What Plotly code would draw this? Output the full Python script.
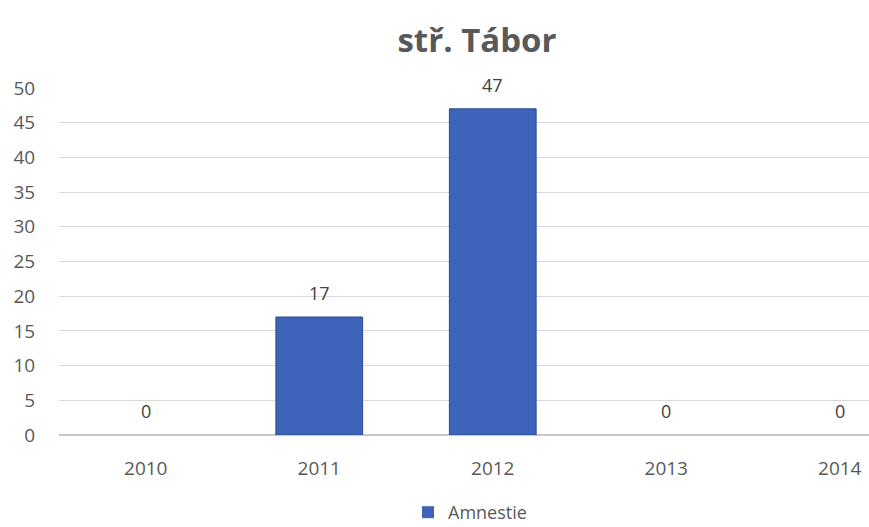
import plotly.graph_objects as go

years = ["2010", "2011", "2012", "2013", "2014"]
amnestie = [0, 17, 47, 0, 0]
y_ticks = [0, 5, 10, 15, 20, 25, 30, 35, 40, 45, 50]

W, H = 869, 527
L, R, T, B = 59, 0, 88, 92
FONT = "Open Sans"
GREY = "#595959"

xs = list(range(len(years)))

fig = go.Figure()
fig.add_trace(go.Bar(
    x=xs, y=amnestie, name="Amnestie",
    width=0.5,
    marker=dict(color="#3d64b8",
                line=dict(color="#2b4a8e", width=[0 if v == 0 else 1 for v in amnestie])),
    hoverinfo="x+y",
))

for x, v in zip(xs, amnestie):
    fig.add_annotation(x=x, y=v, text=str(v), showarrow=False,
                       yanchor="middle", yshift=24,
                       font=dict(family=FONT, size=18, color="#404040"))

fig.update_layout(
    width=W, height=H,
    margin=dict(l=L, r=R, t=T, b=B, autoexpand=False),
    plot_bgcolor="white", paper_bgcolor="white",
    title=dict(text="<b>stř. Tábor</b>", x=477 / W, xref="container", xanchor="center",
               y=1 - 40 / H, yref="container", yanchor="middle",
               font=dict(family=FONT, size=33, color=GREY)),
    xaxis=dict(
        tickmode="array", tickvals=xs, ticktext=years,
        range=[-0.5, -0.5 + (W - L) / 173.5],
        showgrid=False, zeroline=False, showline=False,
        ticks="outside", ticklen=16, tickcolor="rgba(0,0,0,0)",
        tickfont=dict(family=FONT, size=19, color=GREY),
    ),
    yaxis=dict(
        range=[0, 50], tickvals=y_ticks,
        showgrid=True, gridcolor="#d9d9d9", gridwidth=1,
        zeroline=True, zerolinecolor="#c8c8c8", zerolinewidth=2,
        ticks="outside", ticklen=19, tickcolor="rgba(0,0,0,0)",
        tickfont=dict(family=FONT, size=19, color=GREY),
    ),
    showlegend=True,
    legend=dict(orientation="h", x=470 / W, xref="container", xanchor="center",
                y=-0.17, yanchor="top",
                font=dict(family=FONT, size=18, color=GREY)),
    bargap=0.5,
)

fig.write_html("out.html", config={"displayModeBar": False},
               post_script="document.body.style.margin='0';")
